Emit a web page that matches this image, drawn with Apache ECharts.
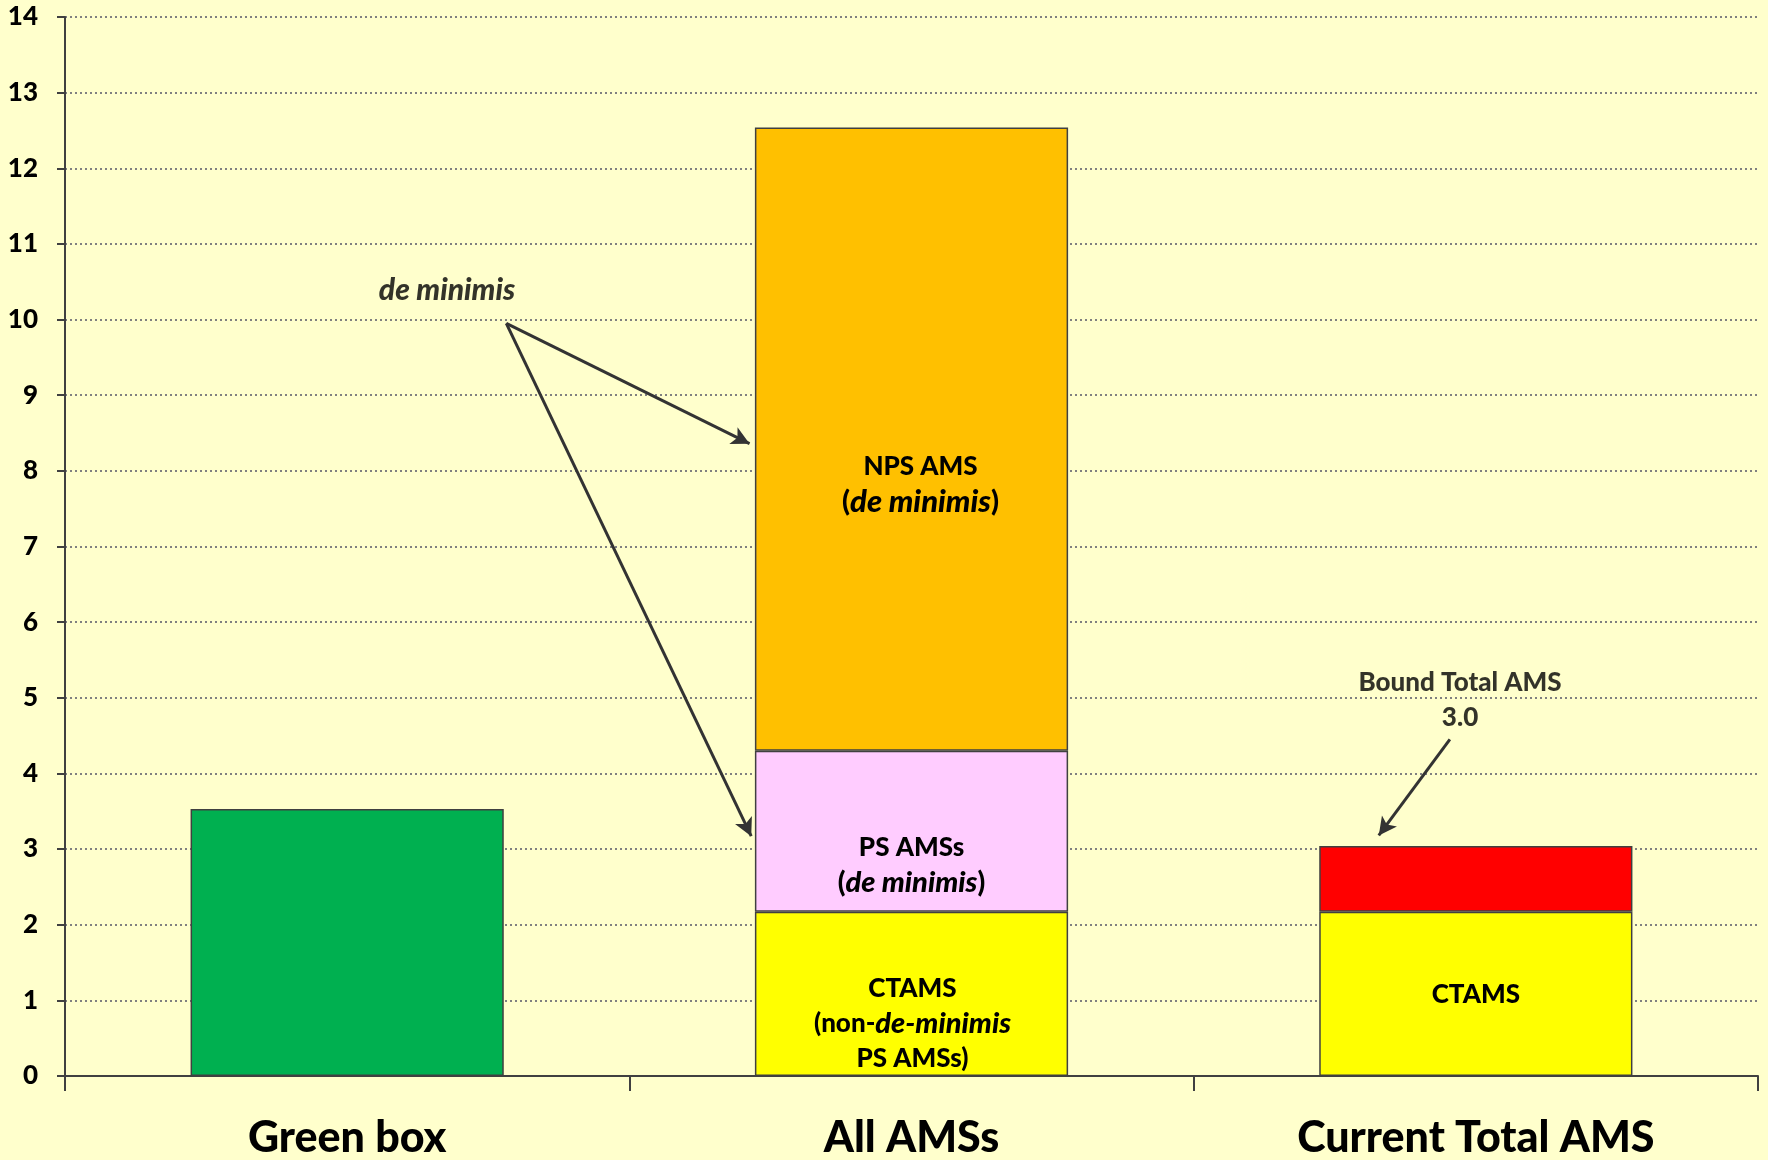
<!DOCTYPE html>
<html>
<head>
<meta charset="utf-8">
<script src="https://cdn.jsdelivr.net/npm/echarts@6/dist/echarts.min.js"></script>
<style>
html,body{margin:0;padding:0;background:#FFFFCC;}
#chart{width:1768px;height:1160px;}
</style>
</head>
<body>
<div id="chart"></div>
<script>
// ---- data ----
const categories = ['Green box', 'All AMSs', 'Current Total AMS'];
const greenBox   = [3.53, null, null];
const ctams      = [null, 2.17, 2.17];
const psAms      = [null, 2.13, null];
const npsAms     = [null, 8.24, null];
const boundRest  = [null, null, 0.87];
const yTicks     = { min: 0, max: 14, interval: 1 };

// labels (text only)
const ctamsLabels = ['', '{b|CTAMS}\n{b|(non-}{i|de-minimis}\n{b|PS AMSs)}', '{b|CTAMS}'];
const psLabels    = ['', '{b|PS AMSs}\n{p|(}{i|de minimis}{p|)}', ''];
const npsLabels   = ['', '{b|NPS AMS}\n{q|(}{j|de minimis}{q|)}', ''];

// annotations (x in category units 0..3, y in value units)
const deMinimisText = [0.677, 10.38];
const deMinimisFrom = [0.782, 9.95];
const deMinimisTo1  = [1.213, 8.36];
const deMinimisTo2  = [1.216, 3.17];
const boundText     = [2.472, 4.97];
const boundFrom     = [2.454, 4.45];
const boundTo       = [2.328, 3.18];

const FONT = 'Lato, "Open Sans", sans-serif';
const W = 900;
const base = { fontFamily: FONT, fontWeight: W, color: '#000', lineHeight: 35 };
const rich = {
  b: Object.assign({ fontSize: 26 }, base),
  p: Object.assign({ fontSize: 28 }, base),
  q: Object.assign({ fontSize: 29 }, base),
  i: Object.assign({ fontSize: 29, fontStyle: 'italic' }, base),
  j: Object.assign({ fontSize: 31, fontStyle: 'italic' }, base),
  a: Object.assign({ fontSize: 30, fontStyle: 'italic' }, base)
};
const border = { borderColor: '#404040', borderWidth: 1.5 };

function barSeries(name, values, color, labels, offsets) {
  return {
    name, type: 'bar', stack: 'total', barWidth: '55.5%',
    xAxisIndex: 0, yAxisIndex: 0,
    itemStyle: Object.assign({ color }, border),
    data: values.map((v, i) => {
      const item = { value: v };
      if (labels && labels[i]) {
        item.label = { show: true, position: 'inside', formatter: labels[i], rich, offset: offsets[i] };
      }
      return item;
    })
  };
}

const chart = echarts.init(document.getElementById('chart'));
chart.setOption({
  backgroundColor: '#FFFFCC',
  animation: false,
  grid: { left: 65, right: 10, top: 17, bottom: 83, containLabel: false },
  xAxis: [
    {
      type: 'category', data: categories, position: 'bottom',
      axisLine: { lineStyle: { color: '#404040', width: 2 } },
      axisTick: { show: true, length: 15, interval: 0, lineStyle: { color: '#404040', width: 2 } },
      axisLabel: { interval: 0, margin: 41, fontFamily: FONT, fontWeight: W, fontSize: 43, color: '#000' }
    },
    { type: 'value', min: 0, max: 3, show: false }
  ],
  yAxis: {
    type: 'value', min: yTicks.min, max: yTicks.max, interval: yTicks.interval,
    axisLine: { show: true, lineStyle: { color: '#404040', width: 2 } },
    axisTick: { show: true, length: 8, lineStyle: { color: '#404040', width: 2 } },
    axisLabel: { margin: 27, fontFamily: FONT, fontWeight: W, fontSize: 26, color: '#000' },
    splitLine: { show: true, lineStyle: { color: '#808080', width: 2, type: [2, 3] } }
  },
  series: [
    barSeries('Green box', greenBox, '#00B050'),
    barSeries('CTAMS', ctams, '#FFFF00', ctamsLabels, [null, [1, 30], [0, 1]]),
    barSeries('PS AMSs', psAms, '#FFCCFF', psLabels, [null, [0, 34], null]),
    barSeries('NPS AMS', npsAms, '#FFC000', npsLabels, [null, [9, 45], null]),
    barSeries('Bound Total AMS', boundRest, '#FF0000'),
    {
      name: 'annotations', type: 'scatter', xAxisIndex: 1, yAxisIndex: 0,
      symbolSize: 1, itemStyle: { color: 'transparent' }, silent: true,
      data: [
        { value: deMinimisText, label: { show: true, position: 'inside', formatter: '{a|de minimis}', rich } },
        { value: boundText, label: { show: true, position: 'inside', formatter: '{b|Bound Total AMS}\n{b|3.0}', rich } }
      ],
      markLine: {
        silent: true, symbol: ['none', 'arrow'], symbolSize: [14, 18],
        lineStyle: { color: '#333333', width: 3, type: 'solid' },
        label: { show: false },
        data: [
          [{ coord: deMinimisFrom }, { coord: deMinimisTo1 }],
          [{ coord: deMinimisFrom }, { coord: deMinimisTo2 }],
          [{ coord: boundFrom }, { coord: boundTo }]
        ]
      }
    }
  ]
});
</script>
</body>
</html>
